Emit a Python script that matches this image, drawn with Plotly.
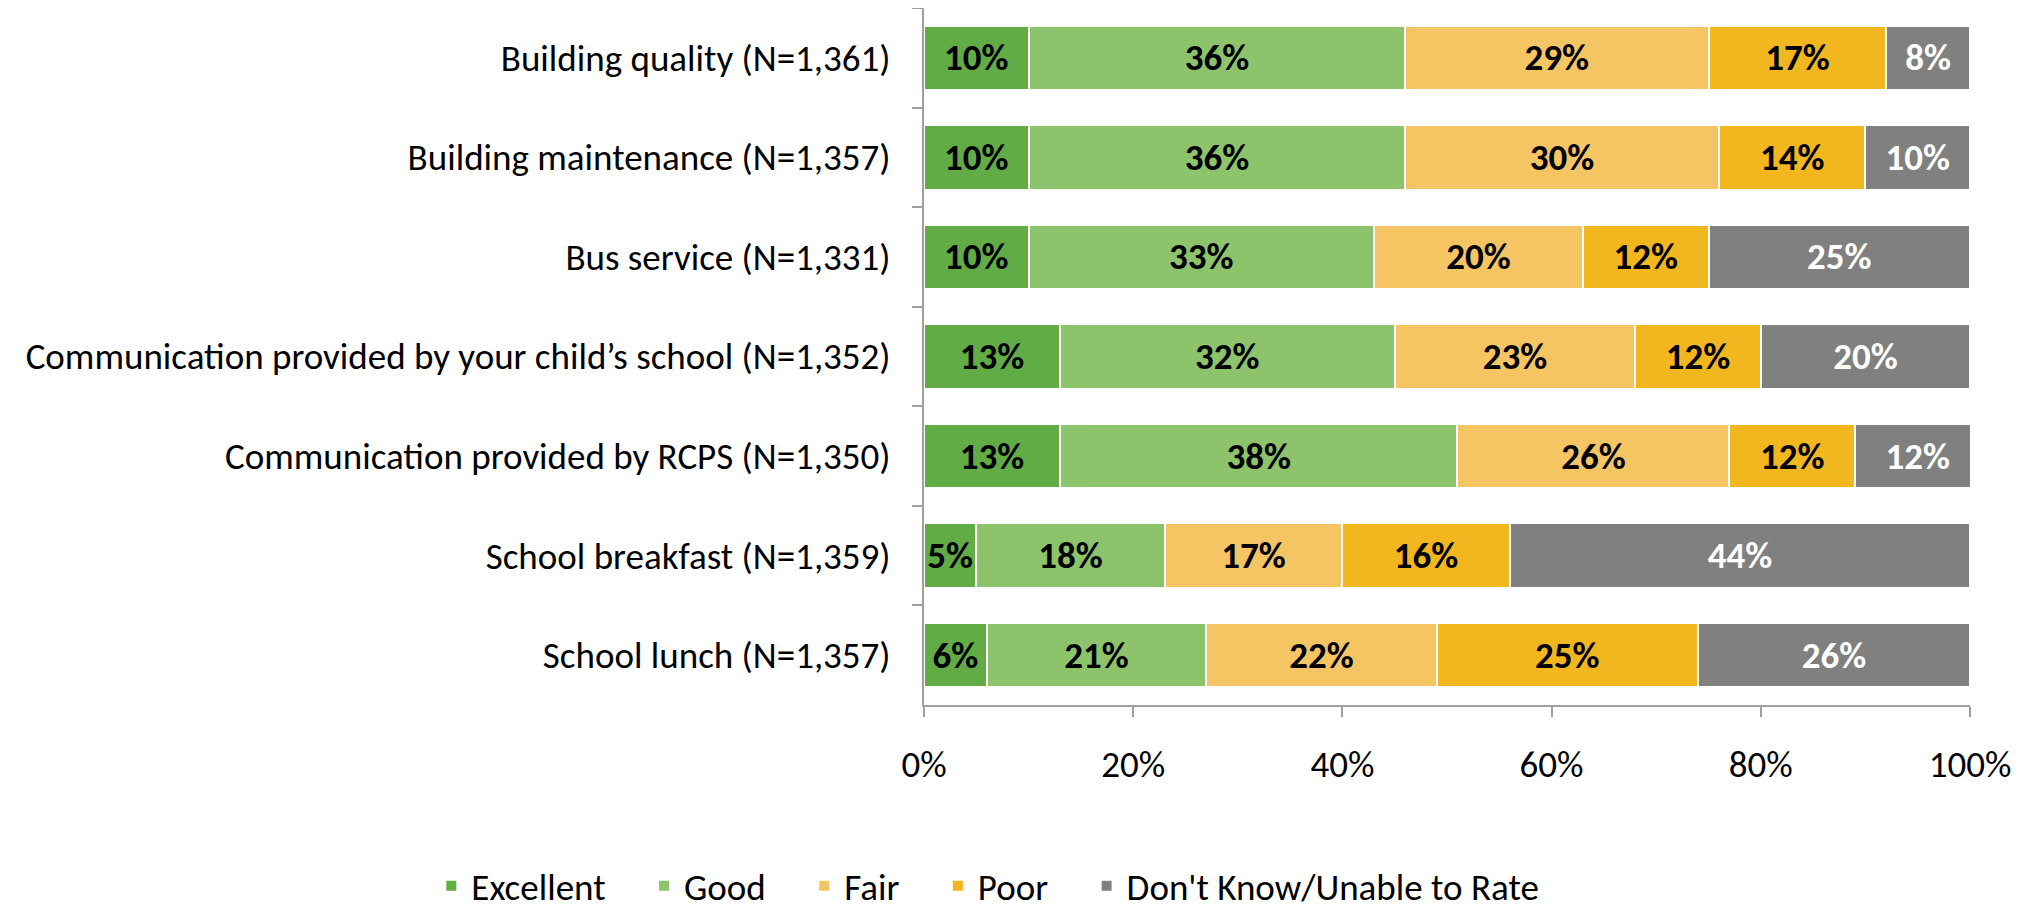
import plotly.graph_objects as go

categories = [
    "Building quality (N=1,361)",
    "Building maintenance (N=1,357)",
    "Bus service (N=1,331)",
    "Communication provided by your child\u2019s school (N=1,352)",
    "Communication provided by RCPS (N=1,350)",
    "School breakfast (N=1,359)",
    "School lunch (N=1,357)",
]
excellent = [10, 10, 10, 13, 13, 5, 6]
good = [36, 36, 33, 32, 38, 18, 21]
fair = [29, 30, 20, 23, 26, 17, 22]
poor = [17, 14, 12, 12, 12, 16, 25]
dont_know = [8, 10, 25, 20, 12, 44, 26]

series_names = ["Excellent", "Good", "Fair", "Poor", "Don't Know/Unable to Rate"]
series_values = [excellent, good, fair, poor, dont_know]
series_colors = ["#62AC46", "#8DC36A", "#F6C563", "#F2B71E", "#808080"]
label_colors = ["#000000", "#000000", "#000000", "#000000", "#FFFFFF"]
tick_values = [0, 20, 40, 60, 80, 100]
tick_labels = ["0%", "20%", "40%", "60%", "80%", "100%"]

FONT = "Carlito, Calibri, Lato, sans-serif"
SIZE = 37
PAD = "\u00a0" * 4

fig = go.Figure()
for i, (name, vals, col, lcol) in enumerate(zip(series_names, series_values, series_colors, label_colors)):
    shown = name + (PAD if i < len(series_names) - 1 else "")
    fig.add_trace(go.Bar(
        y=categories, x=vals, name=shown, orientation="h",
        marker=dict(color=col, line=dict(color="#FFFFFF", width=2)),
        text=[f"<b>{v}%</b>" for v in vals],
        textposition="inside", insidetextanchor="middle",
        constraintext="none",
        textfont=dict(family=FONT, size=SIZE, color=lcol),
        hoverinfo="skip",
    ))

fig.update_layout(
    barmode="stack", bargap=0.354,
    width=2025, height=901,
    margin=dict(l=916, r=63, t=0, b=204, autoexpand=False),
    plot_bgcolor="#FFFFFF", paper_bgcolor="#FFFFFF",
    font=dict(family=FONT, size=SIZE, color="#000000"),
    showlegend=True,
    legend=dict(orientation="h", x=-0.471, xanchor="left", y=-0.26, yanchor="middle",
                font=dict(family=FONT, size=SIZE), traceorder="normal",
                itemwidth=30, bgcolor="rgba(0,0,0,0)"),
)
fig.update_xaxes(
    range=[0, 100], tickvals=tick_values, ticktext=tick_labels,
    showgrid=False, zeroline=False, showline=True, linecolor="#A0A0A0", linewidth=2,
    ticks="outside", ticklen=10, tickcolor="#A0A0A0", tickwidth=2,
    ticklabelstandoff=16, tickfont=dict(family=FONT, size=SIZE),
)
fig.update_yaxes(
    type="category", autorange="reversed",
    showgrid=False, zeroline=False, showline=True, linecolor="#A0A0A0", linewidth=2,
    ticks="outside", tickson="boundaries", ticklen=10, tickcolor="#A0A0A0", tickwidth=2,
    ticklabelstandoff=24, tickfont=dict(family=FONT, size=SIZE),
)

fig.write_html("out.html")
